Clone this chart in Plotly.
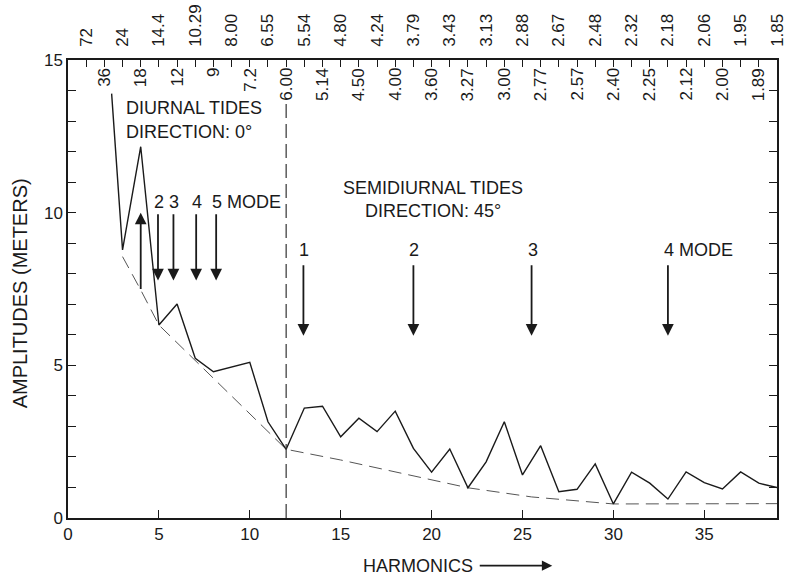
import plotly.graph_objects as go

# ---------------- data ----------------
harmonics = [2.4, 3, 4, 5, 6, 7, 8, 9, 10, 11, 12, 13, 14, 15, 16, 17, 18, 19, 20,
             21, 22, 23, 24, 25, 26, 27, 28, 29, 30, 31, 32, 33, 34, 35, 36, 37, 38, 39]
amplitudes = [13.9, 8.78, 12.16, 6.32, 7.01, 5.23, 4.79, 4.95, 5.10, 3.15, 2.25, 3.60, 3.66,
              2.66, 3.27, 2.83, 3.50, 2.28, 1.50, 2.26, 0.99, 1.84, 3.15, 1.41, 2.37,
              0.86, 0.94, 1.77, 0.46, 1.50, 1.14, 0.62, 1.51, 1.16, 0.95, 1.51, 1.14, 1.00]

env_h = [3, 4, 5, 12, 15, 20, 22, 25.5, 30, 39]
env_a = [8.56, 7.47, 6.32, 2.25, 1.90, 1.24, 0.99, 0.69, 0.46, 0.47]

odd_h = list(range(1, 40, 2))
odd_labels = ["72", "24", "14.4", "10.29", "8.00", "6.55", "5.54", "4.80", "4.24", "3.79",
              "3.43", "3.13", "2.88", "2.67", "2.48", "2.32", "2.18", "2.06", "1.95", "1.85"]
even_h = list(range(2, 40, 2))
even_labels = ["36", "18", "12", "9", "7.2", "6.00", "5.14", "4.50", "4.00", "3.60",
               "3.27", "3.00", "2.77", "2.57", "2.40", "2.25", "2.12", "2.00", "1.89"]

bottom_ticks = [0, 5, 10, 15, 20, 25, 30, 35]
left_ticks = [0, 5, 10, 15]

divider_h = 12
divider_top = 13.6

up_arrow_x = 4.0
up_arrow = (7.45, 10.0)
diurnal_modes_x = [4.95, 5.8, 7.05, 8.15]
diurnal_labels = ["2", "3", "4", "5 MODE"]
diurnal_arrow = (10.0, 7.78)
diurnal_label_y = 10.36

semi_modes_x = [12.95, 19.0, 25.5, 33.0]
semi_labels = ["1", "2", "3", "4 MODE"]
semi_arrow = (8.33, 5.97)
semi_label_y = 8.78

FONT = "Liberation Sans"
INK = "#1a1a1a"

fig = go.Figure()

fig.add_trace(go.Scatter(x=env_h, y=env_a, mode="lines",
                         line=dict(color="#555555", width=1, dash="13px,7px"),
                         hoverinfo="skip", showlegend=False))
fig.add_trace(go.Scatter(x=harmonics, y=amplitudes, mode="lines",
                         line=dict(color=INK, width=1.4),
                         showlegend=False))
# dummy trace for top axis
fig.add_trace(go.Scatter(x=[0, 39], y=[0, 0], xaxis="x2", mode="lines",
                         line=dict(width=0), hoverinfo="skip", showlegend=False))

fig.add_shape(type="line", x0=divider_h, x1=divider_h, y0=0, y1=divider_top,
              xref="x", yref="y", line=dict(color="#333333", width=1.2, dash="14px,6px"))

ann = []
# inner top labels (even harmonics)
for h, t in zip(even_h, even_labels):
    ann.append(dict(x=h, y=1, xref="x", yref="paper", text=t, showarrow=False,
                    textangle=-90, yanchor="top", xanchor="center", yshift=-6,
                    font=dict(family=FONT, size=17, color=INK)))

# diurnal arrows
ann.append(dict(x=up_arrow_x, y=up_arrow[1], ax=up_arrow_x, ay=up_arrow[0],
                xref="x", yref="y", axref="x", ayref="y", text="", showarrow=True,
                arrowhead=2, arrowsize=1.3, arrowwidth=1.8, arrowcolor=INK, standoff=0))
for xm, lab in zip(diurnal_modes_x, diurnal_labels):
    ann.append(dict(x=xm, y=diurnal_arrow[1], ax=xm, ay=diurnal_arrow[0],
                    xref="x", yref="y", axref="x", ayref="y", text="", showarrow=True,
                    arrowhead=2, arrowsize=1.3, arrowwidth=1.8, arrowcolor=INK, standoff=0))
    ann.append(dict(x=xm, y=diurnal_label_y, xref="x", yref="y", text=lab, showarrow=False,
                    xanchor="left", xshift=-6, yanchor="middle",
                    font=dict(family=FONT, size=18, color=INK)))
for xm, lab in zip(semi_modes_x, semi_labels):
    ann.append(dict(x=xm, y=semi_arrow[1], ax=xm, ay=semi_arrow[0],
                    xref="x", yref="y", axref="x", ayref="y", text="", showarrow=True,
                    arrowhead=2, arrowsize=1.3, arrowwidth=1.8, arrowcolor=INK, standoff=0))
    ann.append(dict(x=xm, y=semi_label_y, xref="x", yref="y", text=lab, showarrow=False,
                    xanchor="left", xshift=-6, yanchor="middle",
                    font=dict(family=FONT, size=18, color=INK)))

ann.append(dict(x=3.1, y=13.43, xref="x", yref="y", text="DIURNAL TIDES", showarrow=False,
                xanchor="left", yanchor="middle", font=dict(family=FONT, size=18, color=INK)))
ann.append(dict(x=3.1, y=12.63, xref="x", yref="y", text="DIRECTION: 0°", showarrow=False,
                xanchor="left", yanchor="middle", font=dict(family=FONT, size=18, color=INK)))
ann.append(dict(x=20.08, y=10.81, xref="x", yref="y", text="SEMIDIURNAL TIDES", showarrow=False,
                xanchor="center", yanchor="middle", font=dict(family=FONT, size=18, color=INK)))
ann.append(dict(x=20.08, y=10.06, xref="x", yref="y", text="DIRECTION: 45°", showarrow=False,
                xanchor="center", yanchor="middle", font=dict(family=FONT, size=18, color=INK)))

# axis titles
ann.append(dict(x=-0.068, y=0.49, xref="paper", yref="paper", text="AMPLITUDES (METERS)",
                showarrow=False, textangle=-90, xanchor="center", yanchor="middle",
                font=dict(family=FONT, size=20, color=INK)))
ann.append(dict(x=0.494, y=-0.104, xref="paper", yref="paper", text="HARMONICS",
                showarrow=False, xanchor="center", yanchor="middle",
                font=dict(family=FONT, size=18, color=INK)))
ann.append(dict(x=0.683, y=-0.104, ax=-74, ay=0, xref="paper", yref="paper",
                text="", showarrow=True, arrowhead=2, arrowsize=1.3, arrowwidth=1.6,
                arrowcolor=INK, standoff=0))

fig.update_layout(
    width=791, height=578,
    margin=dict(l=68, r=14, t=60, b=60, autoexpand=False),
    paper_bgcolor="white", plot_bgcolor="white",
    annotations=ann,
    xaxis=dict(range=[0, 39], tickmode="array", tickvals=bottom_ticks,
               ticktext=[str(v) for v in bottom_ticks], automargin=False,
               ticks="inside", ticklen=8, tickwidth=1.3, tickcolor=INK,
               showline=True, linecolor=INK, linewidth=1.5, mirror=False,
               showgrid=False, zeroline=False,
               tickfont=dict(family=FONT, size=17, color=INK)),
    xaxis2=dict(range=[0, 39], overlaying="x", side="top", anchor="y",
                tickmode="array", tickvals=odd_h, ticktext=odd_labels, tickangle=-90,
                automargin=False,
                ticks="inside", ticklen=7, tickwidth=1.2, tickcolor=INK,
                minor=dict(tickmode="linear", tick0=0, dtick=1, ticks="inside",
                           ticklen=7, tickwidth=1.2, tickcolor=INK),
                ticklabelstandoff=8,
                showline=True, linecolor=INK, linewidth=1.5,
                showgrid=False, zeroline=False,
                tickfont=dict(family=FONT, size=17, color=INK)),
    yaxis=dict(range=[0, 15], tickmode="array", tickvals=left_ticks,
               ticktext=[str(v) for v in left_ticks], automargin=False,
               ticks="inside", ticklen=8, tickwidth=1.2, tickcolor=INK,
               minor=dict(tickmode="linear", tick0=0, dtick=1, ticks="inside",
                          ticklen=8, tickwidth=1.2, tickcolor=INK),
               showline=True, linecolor=INK, linewidth=1.5, mirror="ticks",
               showgrid=False, zeroline=False,
               tickfont=dict(family=FONT, size=17, color=INK)),
)

fig.write_html("out.html")
